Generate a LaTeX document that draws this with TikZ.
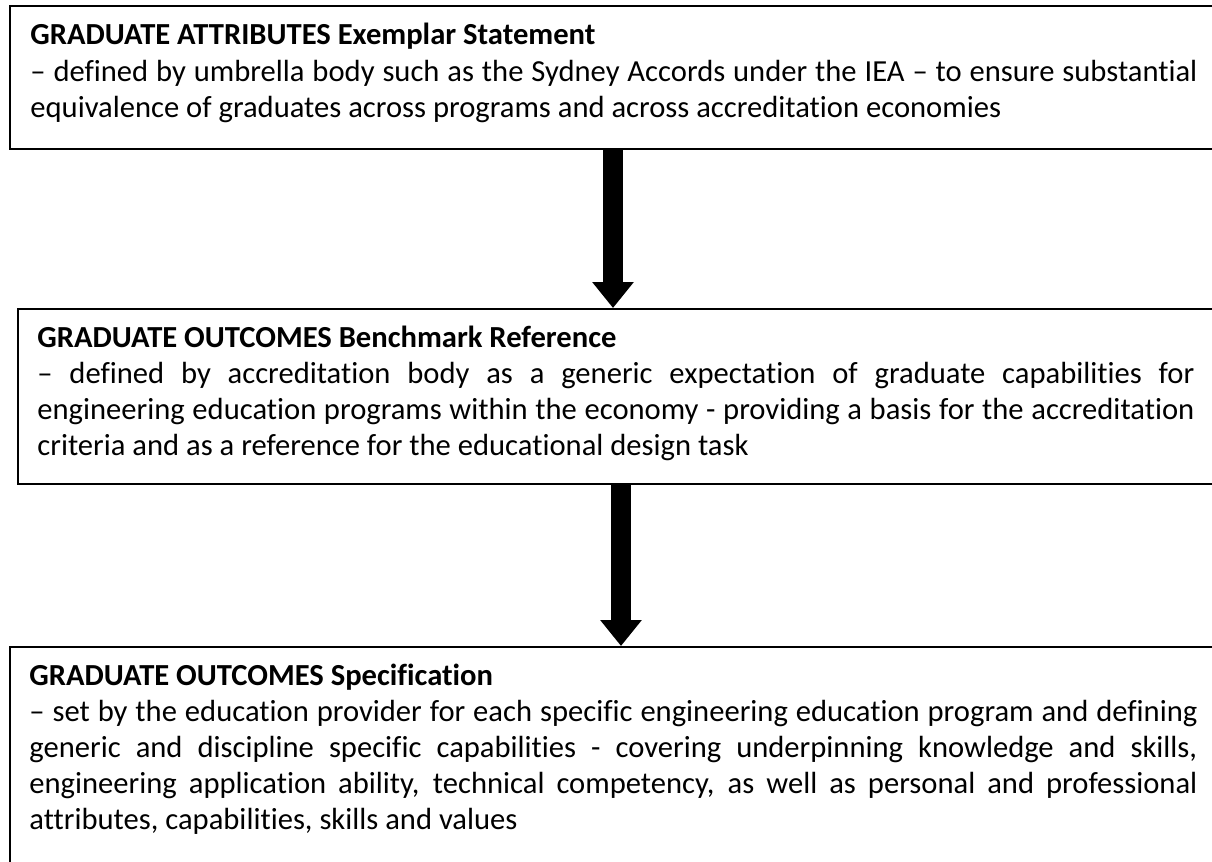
\documentclass[tikz,border=0pt]{standalone}
\usepackage{fontspec}
\setmainfont{Carlito}[Ligatures={NoCommon}]
\usetikzlibrary{arrows.meta,positioning}
\hyphenpenalty=10000
\emergencystretch=20pt

\tikzset{
	panel/.style={draw,line width=1pt,inner sep=0pt,anchor=north west},
	blurb/.style={inner sep=0pt,anchor=base west,align=justify,font=\fontsize{15.3}{18}\selectfont},
	fat arrow/.style={line width=10pt,-{Triangle[width=20pt,length=13pt]}}
}

\begin{document}
\begin{tikzpicture}[x=0.5pt,y=-0.5pt,line cap=butt,line join=miter]
	\useasboundingbox (0,0) rectangle (1212,862);
	\clip (0,0) rectangle (1212,862);
	% the three boxes
	\node[panel,minimum width=615.5pt,minimum height=71.5pt] (attrbox) at (9,5) {};
	\node[panel,minimum width=611.5pt,minimum height=87.5pt] (refbox) at (17,308) {};
	\node[panel,minimum width=615.5pt,minimum height=122pt] (specbox) at (9,646) {};
	% their texts
	\node[blurb,text width=583.5pt] (attrtext) at (30,45) {\textbf{GRADUATE ATTRIBUTES Exemplar Statement}\par
		– defined by umbrella body such as the Sydney Accords under the IEA – to ensure substantial\linebreak
		equivalence of graduates across programs and across accreditation economies};
	\node[blurb,text width=578.5pt] (reftext) at (37,347) {\textbf{GRADUATE OUTCOMES Benchmark Reference}\par
		– defined by accreditation body as a generic expectation of graduate capabilities for\linebreak
		engineering education programs within the economy - providing a basis for the accreditation\linebreak
		criteria and as a reference for the educational design task};
	\node[blurb,text width=584pt] (spectext) at (29,685) {\textbf{GRADUATE OUTCOMES Specification}\par
		– set by the education provider for each specific engineering education program and defining\linebreak
		generic and discipline specific capabilities - covering underpinning knowledge and skills,\linebreak
		engineering application ability, technical competency, as well as personal and professional\linebreak
		attributes, capabilities, skills and values};
	% arrows between boxes
	\coordinate (firstx) at (613,0);
	\coordinate (secondx) at (621,0);
	\draw[fat arrow] (attrbox.south -| firstx) -- (refbox.north -| firstx);
	\draw[fat arrow] (refbox.south -| secondx) -- (specbox.north -| secondx);
\end{tikzpicture}
\end{document}
